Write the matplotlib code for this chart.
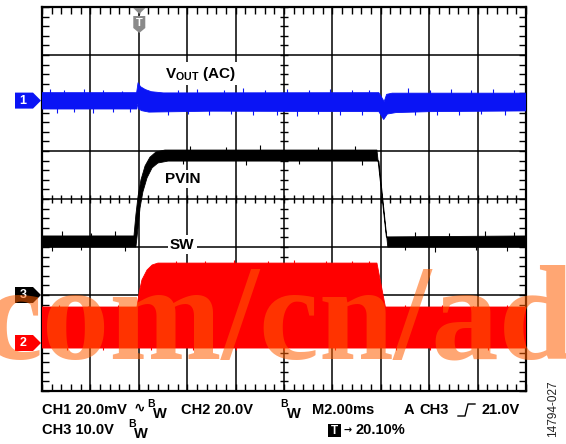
import matplotlib.pyplot as plt
import matplotlib.transforms as mtransforms
from matplotlib.patches import Polygon
from matplotlib.lines import Line2D
import numpy as np

plt.rcParams['font.family'] = ['Liberation Sans', 'DejaVu Sans']
plt.rcParams['mathtext.fontset'] = 'custom'
plt.rcParams['mathtext.rm'] = 'Liberation Sans'
plt.rcParams['mathtext.bf'] = 'Liberation Sans:bold'

W, H = 566, 444

# scope setup
t_div = 2.0          # ms/div
trig_pct = 20.10     # trigger position, % of screen
ch1_scale = 20.0     # mV/div
ch2_scale = 20.0     # V/div
ch3_scale = 10.0     # V/div
ch1_pos = 2.05       # offsets in divisions
ch2_pos = -3.0
ch3_pos = -2.0

# CH1: VOUT (AC), mV -- band edges
vout_top_t = [-4.02, -0.11, -0.05, 0.05, 0.25, 0.5, 1.0, 9.9, 10.12, 10.22, 10.45, 15.98]
vout_top = [3.3, 3.3, 7.5, 5.8, 4.6, 3.7, 3.2, 3.3, -0.4, 2.6, 3.1, 3.1]
vout_bot_t = [-4.02, -0.1, -0.06, -0.02, 0.1, 0.4, 3.0, 9.9, 10.1, 10.25, 10.6, 12.0, 15.98]
vout_bot = [-3.5, -3.5, -1.2, -3.5, -4.2, -4.8, -4.4, -4.6, -7.9, -5.6, -5.0, -4.6, -4.3]
vout_spk_t = [-3.7, -3.1, -2.3, -1.5, -0.7, 1.6, 2.4, 3.5, 4.3, 5.2, 6.1, 7.0, 7.9, 8.8, 9.5,
              11.1, 12.0, 12.9, 13.7, 14.6, 15.5,
              -3.4, -2.7, -1.9, -1.1, -0.4, 1.2, 2.0, 2.9, 3.8, 4.7, 5.7, 6.5, 7.4, 8.3, 9.2,
              11.4, 12.3, 13.2, 14.1, 15.1]
vout_spk = [4.8, 4.4, 5.0, 4.6, 4.2, 4.4, 4.9, 4.3, 5.1, 4.5, 4.8, 4.3, 5.0, 4.6, 4.4,
            5.2, 4.6, 4.9, 4.3, 5.0, 4.6,
            -5.0, -4.6, -5.2, -4.7, -4.9, -6.0, -5.7, -6.2, -5.6, -6.1, -5.8, -6.3, -5.7, -6.0, -5.9,
            -6.1, -5.8, -6.2, -5.6, -5.9]

# CH3: PVIN, V
pvin_top_t = [-4.02, -0.22, -0.14, -0.05, 0.07, 0.24, 0.44, 0.69, 1.06, 9.82, 10.21, 15.98]
pvin_top = [12.3, 12.3, 16.7, 20.6, 24.0, 26.9, 28.7, 29.8, 30.2, 30.2, 12.1, 12.3]
pvin_bot_t = [-4.02, -0.14, -0.05, 0.03, 0.15, 0.32, 0.53, 0.77, 1.19, 9.9, 10.27, 15.98]
pvin_bot = [10.0, 10.0, 14.0, 18.1, 21.5, 24.4, 26.5, 27.5, 27.9, 27.9, 10.0, 10.0]
pvin_spk_t = [-3.2, -2.0, -1.0, 2.1, 3.6, 5.0, 7.4, 8.9, 11.4, 12.8, 14.3, 15.5,
              -3.6, -2.4, -0.6, 1.8, 4.4, 6.6, 9.2, 11.0, 12.2, 13.9, 15.2]
pvin_spk = [13.3, 13.0, 13.4, 31.0, 30.9, 31.2, 30.8, 31.1, 13.2, 13.0, 13.4, 13.1,
            9.2, 9.4, 9.1, 27.2, 27.1, 27.3, 27.0, 9.3, 9.0, 9.3, 9.2]
pvin_mid = [11.2, 11.2, 11.2, 29.0, 29.0, 29.0, 29.0, 29.0, 11.2, 11.2, 11.2, 11.2,
            11.2, 11.2, 11.2, 29.0, 29.0, 29.0, 29.0, 11.2, 11.2, 11.2, 11.2]

# CH2: SW, V
sw_top_t = [-4.02, -0.095, -0.01, 0.11, 0.32, 0.53, 0.77, 9.82, 10.17, 15.98]
sw_top = [15.0, 15.0, 20.8, 26.3, 30.4, 32.5, 33.3, 33.3, 15.0, 15.0]
sw_bot_t = [-4.02, 15.98]
sw_bot = [-2.1, -2.1]
sw_spk_t = [1.5, 2.7, 3.9, 5.3, 6.4, 7.7, 8.8, 9.5, -3.3, -2.1, -0.9, 11.0, 12.5, 13.8, 15.2,
            -3.0, -1.5, 0.5, 2.2, 4.0, 6.0, 8.1, 10.6, 12.0, 14.4]
sw_spk = [34.3, 34.0, 34.5, 34.1, 34.4, 34.0, 34.3, 34.2, 15.8, 15.6, 15.9, 15.7, 15.9, 15.6, 15.8,
          -3.0, -2.8, -3.1, -2.9, -3.0, -2.8, -3.1, -3.0, -2.8, -3.1]
sw_base = [30.0] * 8 + [10.0] * 7 + [0.0] * 10

blue = '#0a14f5'
red = '#ff0000'


def div(v, pos, scale):
    return pos + np.asarray(v, dtype=float) / scale


def band(ax, tt, top, tb, bot, pos, scale, color):
    xs = np.concatenate([tt, tb[::-1]])
    ys = np.concatenate([div(top, pos, scale), div(bot, pos, scale)[::-1]])
    ax.fill(xs, ys, color=color, lw=0.6, ec=color, zorder=3)


fig = plt.figure(figsize=(W / 100, H / 100), dpi=100)
ax = fig.add_axes([42 / W, 1 - 391 / H, 484 / W, 384 / H])
t0 = -trig_pct / 100 * 10 * t_div
ax.set_xlim(t0, t0 + 10 * t_div)
ax.set_ylim(-4, 4)

# graticule
xg = t0 + t_div * np.arange(1, 10)
ax.vlines(xg, -4, 4, color='black', lw=1.1, zorder=1)
ax.hlines(np.arange(-3, 4), t0, t0 + 10 * t_div, color='black', lw=1.1, zorder=1)
xminor = t0 + t_div * np.arange(0, 10.01, 0.2)
yminor = np.arange(-4, 4.01, 0.2)
ax.set_xticks([])
ax.set_yticks([])
ax.set_xticks(xminor, minor=True)
ax.set_yticks(yminor, minor=True)
ax.tick_params(which='minor', direction='in', length=5, width=1, top=True, right=True,
               labelbottom=False, labelleft=False)
ax.plot(xminor, np.zeros_like(xminor), ls='', marker='|', ms=6, mew=1, color='black', zorder=1)
ax.plot(np.full_like(yminor, t0 + 5 * t_div), yminor, ls='', marker='_', ms=6, mew=1,
        color='black', zorder=1)
for s in ax.spines.values():
    s.set_linewidth(1.6)

# traces
band(ax, vout_top_t, vout_top, vout_bot_t, vout_bot, ch1_pos, ch1_scale, blue)
ax.vlines(vout_spk_t, ch1_pos, div(vout_spk, ch1_pos, ch1_scale), color=blue, lw=0.8, zorder=3)
band(ax, pvin_top_t, pvin_top, pvin_bot_t, pvin_bot, ch3_pos, ch3_scale, 'black')
ax.vlines(pvin_spk_t, div(pvin_mid, ch3_pos, ch3_scale), div(pvin_spk, ch3_pos, ch3_scale),
          color='black', lw=0.8, zorder=3)
band(ax, sw_top_t, sw_top, sw_bot_t, sw_bot, ch2_pos, ch2_scale, red)
ax.vlines(sw_spk_t, div(sw_base, ch2_pos, ch2_scale), div(sw_spk, ch2_pos, ch2_scale),
          color=red, lw=0.8, zorder=3)

# trace labels, on a white patch over the graticule
lbl = dict(fontsize=11, fontweight='bold', color='black', zorder=5,
           bbox=dict(fc='white', ec='none', pad=1.5))
ax.text(1.06, 2.53, r'$\mathbf{V_{OUT}}$ (AC)', **lbl)
ax.text(1.06, 0.33, 'PVIN', **lbl)
ax.text(1.27, -0.95, 'SW', va='center', **lbl)

# pixel transform, origin at top-left
pix = mtransforms.Affine2D().scale(1 / W, -1 / H).translate(0, 1) + fig.transFigure


def to_pix(x, y):
    dx, dy = ax.transData.transform((x, y))
    return dx, H - dy


# channel markers on the left
for name, pos, col in [('1', ch1_pos, blue), ('3', ch3_pos, 'black'), ('2', ch2_pos, red)]:
    _, py = to_pix(0, pos)
    shape = [(15, py - 8), (33, py - 8), (41, py), (33, py + 8), (15, py + 8)]
    fig.add_artist(Polygon(shape, closed=True, transform=pix, fc=col, ec='none'))
    fig.text(23 / W, 1 - py / H, name, color='white', fontsize=9, fontweight='bold',
             ha='center', va='center')

# trigger position marker
tx, _ = to_pix(0, 0)
gray = '#8a8a8a'
fig.add_artist(Polygon([(tx - 6, 8), (tx + 6, 8), (tx, 14)], closed=True, transform=pix,
                       fc=gray, ec='none'))
fig.add_artist(Polygon([(tx - 6, 16), (tx + 6, 16), (tx + 6, 28), (tx, 33), (tx - 6, 28)],
                       closed=True, transform=pix, fc=gray, ec='none'))
fig.text(tx / W, 1 - 22.5 / H, 'T', color='white', fontsize=8, fontweight='bold',
         ha='center', va='center')


# readout text
def put(x, y, s, size=10.5, **kw):
    fig.text(x / W, 1 - y / H, s, fontsize=size, fontweight='bold', va='center', **kw)


put(42, 410, 'CH1 20.0mV')
put(134, 408, '\u223f', size=10, family=['DejaVu Sans'])
put(147, 404, 'B', size=7.5)
put(153, 414, 'W')
put(181, 410, 'CH2 20.0V')
put(280, 404, 'B', size=7.5)
put(287, 414, 'W')
put(312, 410, 'M2.00ms')
put(404, 410, 'A')
put(419, 410, 'CH3')
fig.add_artist(Line2D([458, 465, 468, 475], [416, 416, 404, 404], transform=pix,
                      color='black', lw=1))
put(481, 410, '21.0V')
put(42, 430, 'CH3 10.0V')
put(128, 424, 'B', size=7.5)
put(134, 434, 'W')
fig.add_artist(Polygon([(328, 424), (341, 424), (341, 437), (328, 437)], closed=True,
                       transform=pix, fc='black', ec='none'))
put(334.5, 430.5, 'T', size=8.5, color='white', ha='center')
put(344, 430, '\u2192', size=7, family=['DejaVu Sans'])
put(356, 430, '20.10%')
fig.text(553 / W, 1 - 409 / H, '14794-027', fontsize=8.5, rotation=90, ha='center',
         va='center', color='#222222')

# site watermark
fig.text(-18 / W, 1 - 358 / H, 'com/cn/ad', family='Liberation Serif', fontweight='bold',
         fontsize=97, color='#ff5e00', alpha=0.55, va='baseline', zorder=10)

fig.savefig('out.png', dpi=100)
